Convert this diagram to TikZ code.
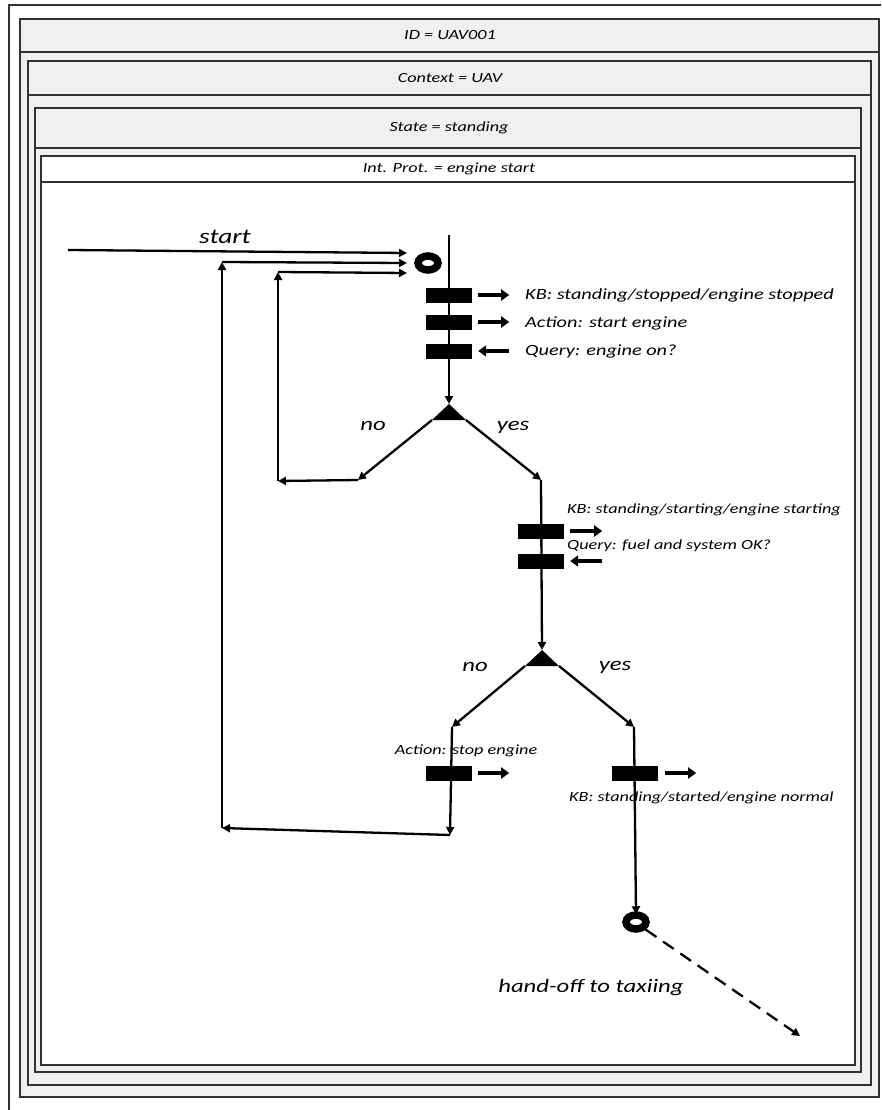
\documentclass[tikz,border=0pt]{standalone}
\usepackage{fontspec}
\setmainfont{Carlito}[FakeStretch=1.3]
\usetikzlibrary{arrows.meta,shapes.geometric}
\definecolor{boxgray}{RGB}{240,240,240}
\definecolor{framecol}{RGB}{50,50,50}
\begin{document}
\begin{tikzpicture}[x=1pt,y=-1pt,
  frame/.style={draw=framecol, line width=1.5pt},
  hdr/.style={font=\itshape\fontsize{14}{16}\selectfont, inner sep=0pt},
  flow/.style={line width=2.3pt, -{Triangle[length=8pt,width=8pt]}},
  bar/.style={fill=black, minimum width=46pt, minimum height=15pt, inner sep=0pt},
  sarrow/.style={line width=4.5pt, -{Triangle[length=8pt,width=11pt]}},
  lbl/.style={font=\itshape\fontsize{15.6}{17}\selectfont, anchor=west, inner sep=0pt},
  lblb/.style={font=\itshape\fontsize{14}{16}\selectfont, anchor=west, inner sep=0pt},
  big/.style={font=\itshape\fontsize{19}{21}\selectfont, inner sep=0pt},
  ring/.style={ellipse, draw=black, line width=7.5pt, minimum width=20pt, minimum height=14pt, inner sep=0pt}
]
\useasboundingbox (0,0) rectangle (881,1110);
\fill[white] (0,0) rectangle (881,1110);
% outer frame
\draw[frame] (9,1110) -- (9,5) -- (881,5);
% ID box
\draw[frame, fill=boxgray] (20,19) rectangle (879,1097);
\draw[frame] (20,52) -- (879,52);
\node[hdr] (hid) at (450,35.5) {ID = UAV001};
% Context box
\draw[frame, fill=boxgray] (28,61) rectangle (871,1085);
\draw[frame] (28,95) -- (871,95);
\node[hdr] (hctx) at (450,78) {Context = UAV};
% State box
\draw[frame, fill=boxgray] (35,108) rectangle (861,1072);
\draw[frame] (35,148) -- (861,148);
\node[hdr] (hst) at (449,128) {State = standing};
% Int. Prot. box
\draw[frame, fill=white] (41,156) rectangle (855,1065);
\draw[frame] (41,182) -- (855,182);
\node[hdr] (hip) at (449,169) {Int. Prot. = engine start};

% start
\node[ring] (s0) at (428,263) {};
\coordinate (st0) at (68,250);
\coordinate (in1) at (407,253);
\coordinate (in2) at (407,263);
\coordinate (in3) at (407,273);
\node[big, font=\itshape\fontsize{21}{23}\selectfont] (tstart) at (225,237) {start};
\draw[flow] (st0) -- (in1);

% main line
\coordinate (top) at (449,235);
\coordinate (d1) at (449,404);
\coordinate (d1l) at (432,420);
\coordinate (d1r) at (466,420);
\draw[flow] (top) -- (d1);
\fill (d1) -- (d1l) -- (d1r) -- cycle;
\node[bar] (b1) at (449,295) {};
\node[bar] (b2) at (449,322) {};
\node[bar] (b3) at (449,351) {};
\draw[sarrow] ([xshift=6pt]b1.east) -- ([xshift=37pt]b1.east);
\draw[sarrow] ([xshift=6pt]b2.east) -- ([xshift=37pt]b2.east);
\draw[sarrow] ([xshift=37pt]b3.east) -- ([xshift=6pt]b3.east);
\node[lbl] (t1) at (525,295) {KB: standing/stopped/engine stopped};
\node[lbl] (t2) at (525,323) {Action: start engine};
\node[lbl] (t3) at (525,351) {Query: engine on?};

% decision 1 branches
\coordinate (c1) at (358,480);
\coordinate (c2) at (541,480);
\draw[flow] (d1l) -- (c1);
\draw[flow] (d1r) -- (c2);
\node[big] (no1) at (373,426) {no};
\node[big] (yes1) at (513,427) {yes};
% loop 2
\coordinate (l2a) at (278,481);
\coordinate (l2b) at (278,272);
\draw[flow] (c1) -- (l2a);
\draw[flow] (l2a) -- (l2b);
\draw[flow] (l2b) -- (in3);

% right branch
\coordinate (d2) at (542,650);
\coordinate (d2l) at (525,666);
\coordinate (d2r) at (559,666);
\draw[flow] (c2) -- (d2);
\fill (d2) -- (d2l) -- (d2r) -- cycle;
\node[bar] (b4) at (541,531) {};
\node[bar] (b5) at (541,561) {};
\draw[sarrow] ([xshift=6pt]b4.east) -- ([xshift=38pt]b4.east);
\draw[sarrow] ([xshift=38pt]b5.east) -- ([xshift=6pt]b5.east);
\node[lblb] (t4) at (567,510) {KB: standing/starting/engine starting};
\node[lblb] (t5) at (567,546) {Query: fuel and system OK?};

% decision 2 branches
\coordinate (c3) at (452,727);
\coordinate (c4) at (634,727);
\draw[flow] (d2l) -- (c3);
\draw[flow] (d2r) -- (c4);
\node[big] (no2) at (475,667) {no};
\node[big] (yes2) at (615,667) {yes};

% left sub-branch (stop engine)
\coordinate (c3b) at (450,835);
\coordinate (l1a) at (222,828);
\coordinate (l1b) at (222,262);
\draw[flow] (c3) -- (c3b);
\node[bar] (b6) at (449,773) {};
\draw[sarrow] ([xshift=6pt]b6.east) -- ([xshift=37pt]b6.east);
\node[lblb, anchor=center] (t6) at (466,751) {Action: stop engine};
\draw[flow] (c3b) -- (l1a);
\draw[flow] (l1a) -- (l1b);
\draw[flow] (l1b) -- (in2);

% right sub-branch (started)
\node[ring] (s1) at (636,922) {};
\draw[flow] (c4) -- ([yshift=-3pt]s1.north);
\node[bar] (b7) at (635,773) {};
\draw[sarrow] ([xshift=7pt]b7.east) -- ([xshift=38pt]b7.east);
\node[lblb] (t7) at (569,798) {KB: standing/started/engine normal};

% hand-off
\coordinate (hend) at (800,1036);
\draw[line width=2.3pt, dash pattern=on 13pt off 8pt, -{Triangle[length=8pt,width=8pt]}] (s1.south east) -- (hend);
\node[big] (tho) at (591,988) {hand-off to taxiing};
\end{tikzpicture}
\end{document}
